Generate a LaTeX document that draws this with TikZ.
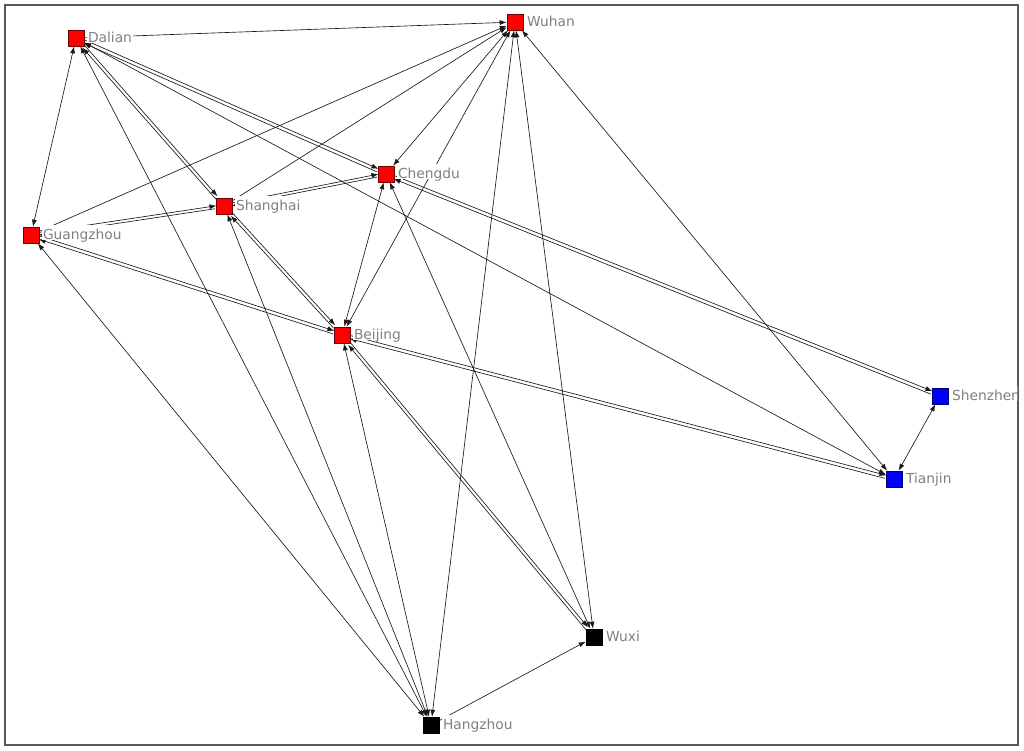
\documentclass[tikz,border=0pt]{standalone}
\usepackage{fontspec}
\setmainfont{DejaVu Sans}
\usetikzlibrary{arrows.meta}

\begin{document}
\begin{tikzpicture}[x=1pt, y=-1pt,
  city/.style={rectangle, minimum size=16pt, inner sep=0pt, line width=0.6pt},
  redcity/.style={city, fill=red, draw=red!45!black},
  bluecity/.style={city, fill=blue, draw=blue!45!black},
  blackcity/.style={city, fill=black, draw=black},
  tag/.style={anchor=west, fill=white, text=black!50, font=\fontsize{13.8}{14}\selectfont,
    inner xsep=1.5pt, inner ysep=0pt, text height=14pt, text depth=1pt},
  link/.style={draw=black!90, line width=0.65pt, -{Latex[length=7pt,width=5pt]}},
  twoway/.style={link, {Latex[length=7pt,width=5pt]}-{Latex[length=7pt,width=5pt]}},
  upper/.style={link, transform canvas={xshift=0.75pt, yshift=1.5pt}},
  lower/.style={link, transform canvas={xshift=-0.75pt, yshift=-1.5pt}}]
\useasboundingbox (0,0) rectangle (1024,750);
\draw[black!65, line width=1.2pt] (5,5) rectangle (1018,745);
\begin{scope}
\clip (5.6,5.6) rectangle (1017.4,744.4);
% cities
\node[redcity] (dalian) at (76,38) {};
\node[redcity] (wuhan) at (515,22) {};
\node[redcity] (chengdu) at (386,174) {};
\node[redcity] (shanghai) at (224,206) {};
\node[redcity] (guangzhou) at (31,235) {};
\node[redcity] (beijing) at (342,335) {};
\node[bluecity] (shenzhen) at (940,396) {};
\node[bluecity] (tianjin) at (894,479) {};
\node[blackcity] (wuxi) at (594,637) {};
\node[blackcity] (hangzhou) at (431,725) {};
% single ties
\draw[link] (dalian) -- (wuhan);
\draw[twoway] (dalian) -- (guangzhou);
\draw[link] (guangzhou) -- (wuhan);
\draw[link] (shanghai) -- (wuhan);
\draw[twoway] (chengdu) -- (wuhan);
\draw[twoway] (beijing) -- (wuhan);
\draw[twoway] (beijing) -- (chengdu);
\draw[twoway] (hangzhou) -- (wuhan);
\draw[twoway] (wuhan) -- (wuxi);
\draw[twoway] (wuhan) -- (tianjin);
\draw[twoway] (dalian) -- (tianjin);
\draw[twoway] (dalian) -- (hangzhou);
\draw[twoway] (guangzhou) -- (hangzhou);
\draw[twoway] (shanghai) -- (hangzhou);
\draw[twoway] (beijing) -- (hangzhou);
\draw[link] (hangzhou) -- (wuxi);
\draw[twoway] (chengdu) -- (wuxi);
\draw[twoway] (shenzhen) -- (tianjin);
% double ties
\foreach \a/\b in {dalian/shanghai, dalian/chengdu, guangzhou/shanghai, guangzhou/beijing,
  shanghai/chengdu, shanghai/beijing, chengdu/shenzhen, beijing/tianjin, beijing/wuxi}{
  \draw[upper] (\a) -- (\b);
  \draw[lower] (\b) -- (\a);
}
% labels
\foreach \n/\t in {dalian/Dalian, wuhan/Wuhan, chengdu/Chengdu, shanghai/Shanghai,
  guangzhou/Guangzhou, beijing/Beijing, shenzhen/Shenzhen, tianjin/Tianjin,
  wuxi/Wuxi, hangzhou/Hangzhou}
  \node[tag] (\n-tag) at ([xshift=2pt, yshift=2.5pt]\n.east) {\t};
\end{scope}
\end{tikzpicture}
\end{document}
